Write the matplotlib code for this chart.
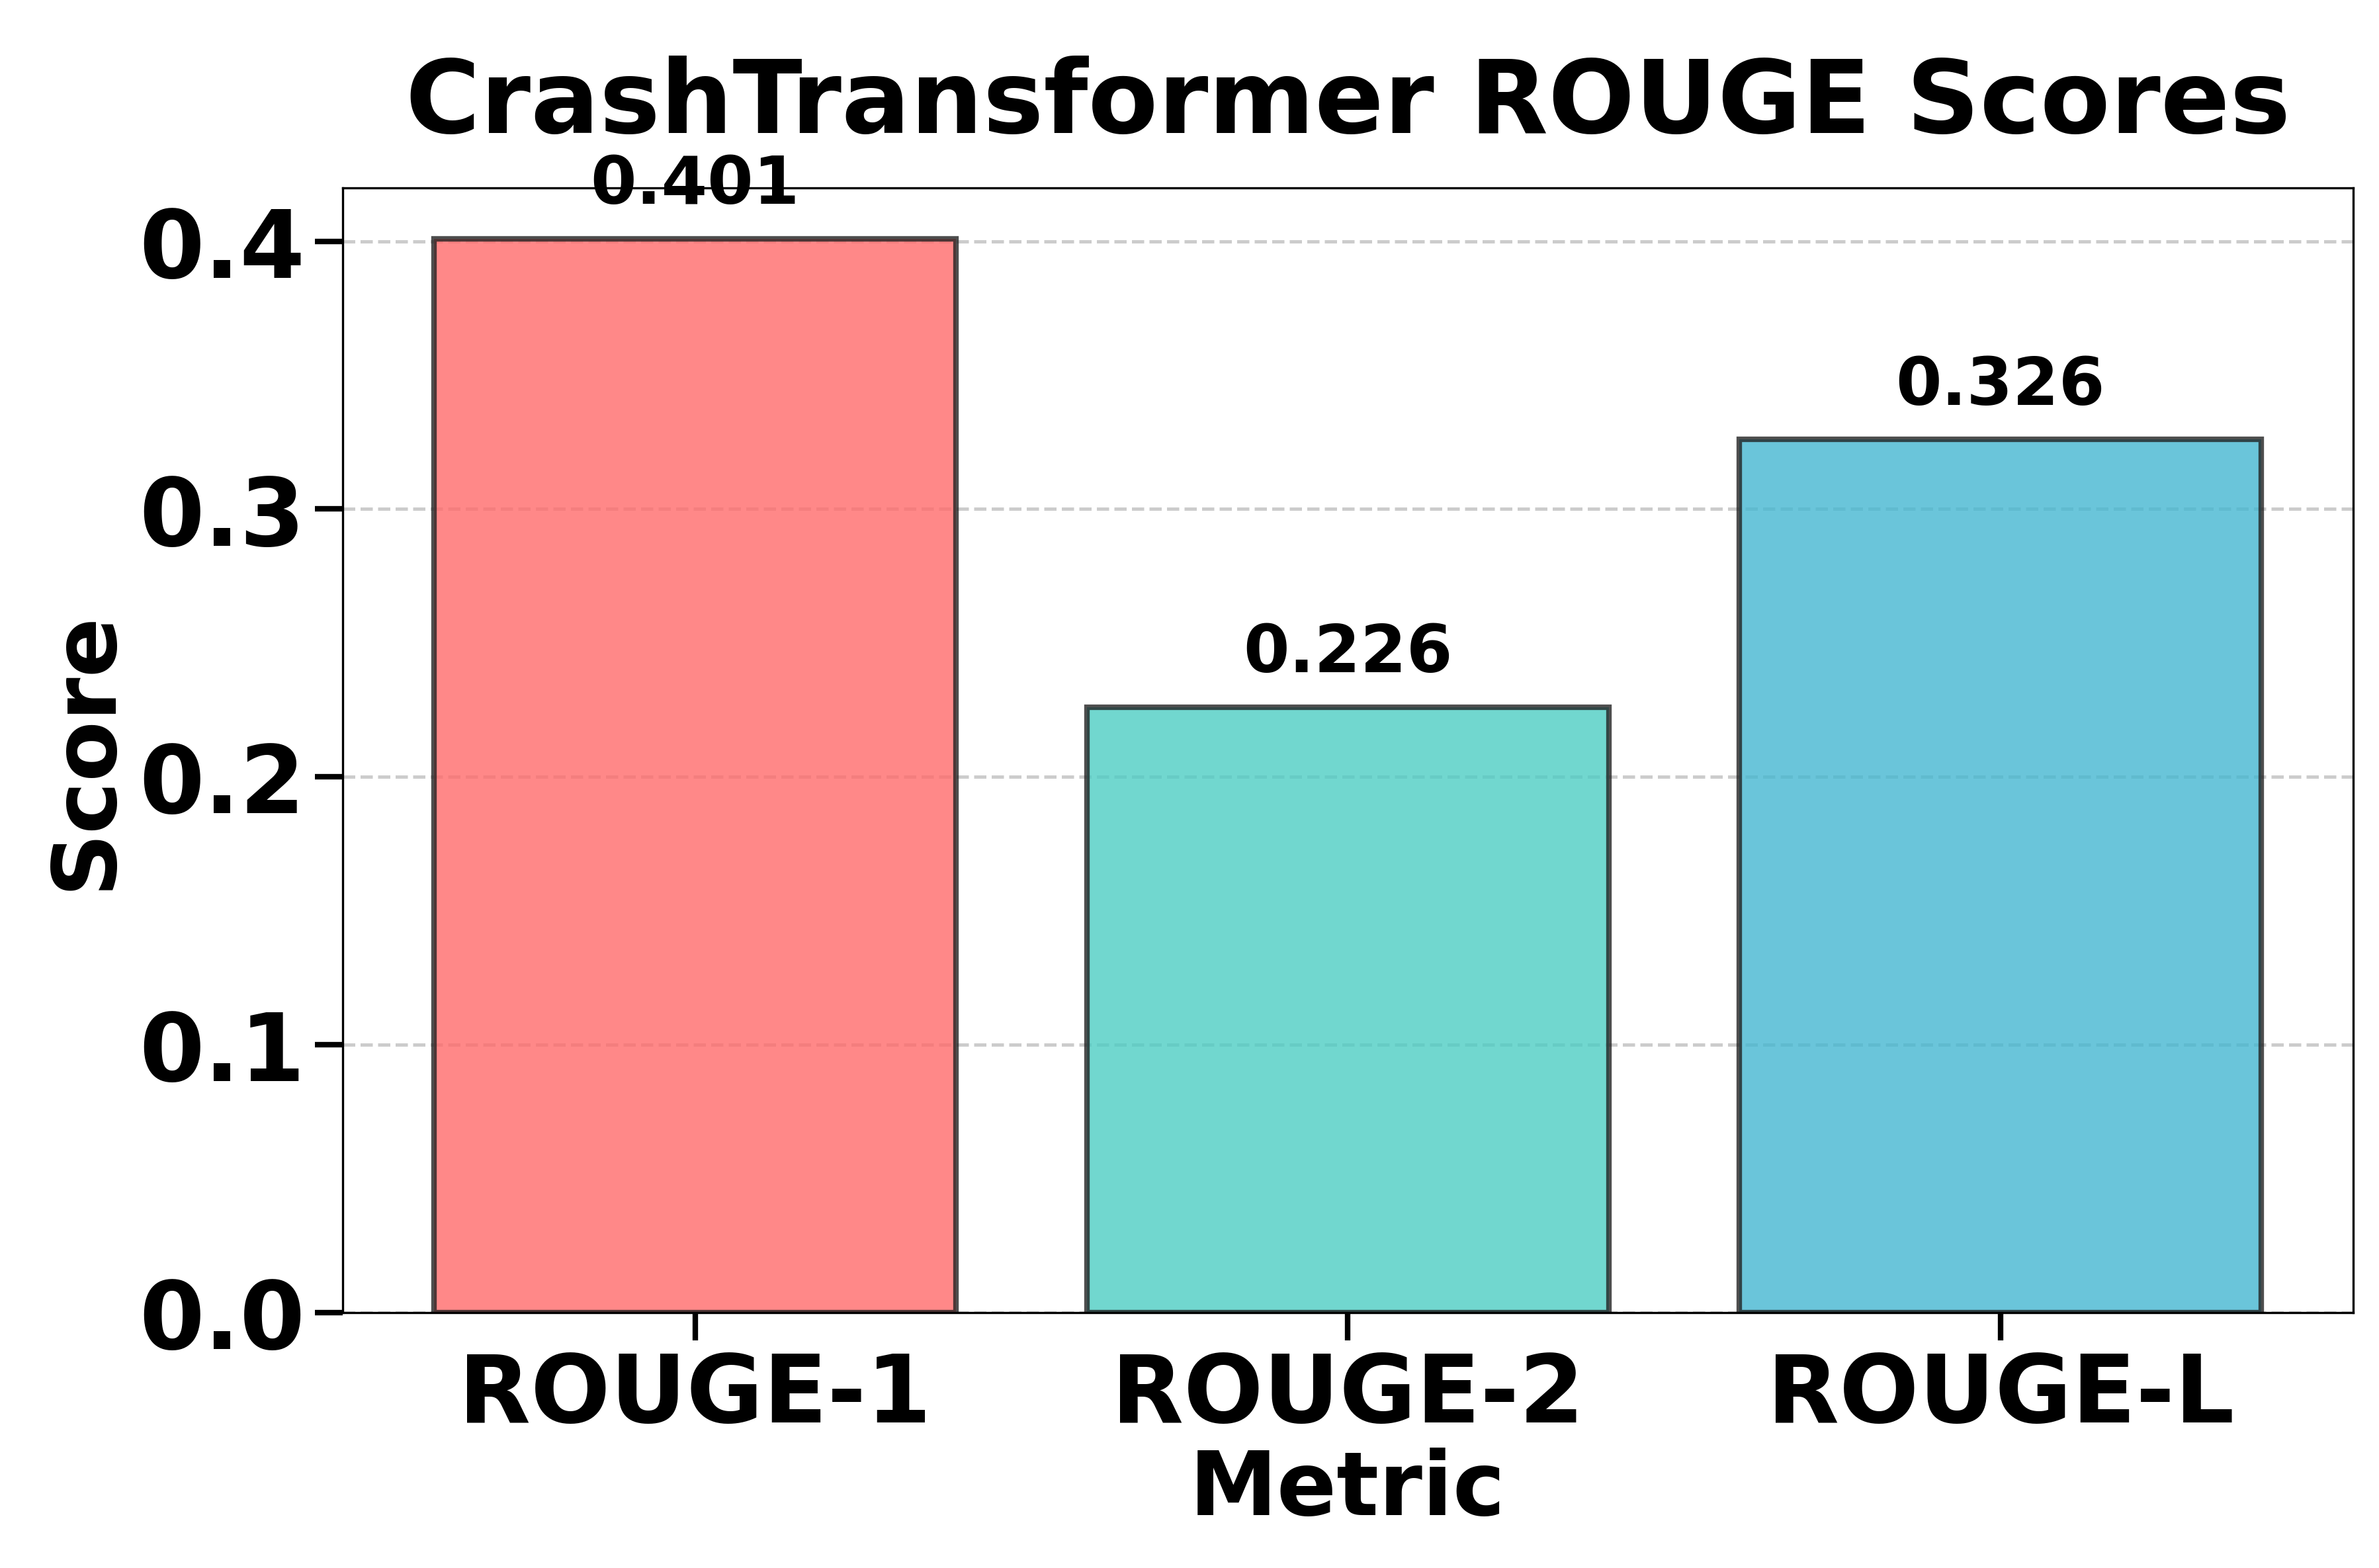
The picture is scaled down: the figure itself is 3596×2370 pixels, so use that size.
import matplotlib
matplotlib.use("Agg")
import matplotlib.pyplot as plt

metrics = ["ROUGE-1", "ROUGE-2", "ROUGE-L"]
scores = [0.401, 0.226, 0.326]
colors = ["#FF6B6B", "#4ECDC4", "#45B7D1"]

fig = plt.figure(figsize=(11.987, 7.903), dpi=300)
ax = fig.add_axes([0.144, 0.163, 0.845, 0.717])

bars = ax.bar(metrics, scores, color=colors, alpha=0.8, edgecolor="#222222", linewidth=2, width=0.8, zorder=2)
for b, s in zip(bars, scores):
    ax.text(b.get_x() + b.get_width() / 2, s + 0.008, f"{s:.3f}", ha="center", va="bottom",
            fontsize=24, fontweight="bold")

ax.set_ylim(0, 0.42)
ax.set_yticks([0.0, 0.1, 0.2, 0.3, 0.4])
ax.yaxis.grid(True, linestyle="--", color="#cccccc", linewidth=1.2, zorder=0)
ax.set_axisbelow(True)
ax.tick_params(axis="both", labelsize=34, length=10, width=2)
for lab in ax.get_xticklabels() + ax.get_yticklabels():
    lab.set_fontweight("bold")
ax.set_xlabel("Metric", fontsize=32, fontweight="bold", labelpad=2)
ax.set_ylabel("Score", fontsize=32, fontweight="bold")
ax.set_title("CrashTransformer ROUGE Scores", fontsize=37, fontweight="bold", pad=20)

fig.savefig("out.png", dpi=300)
